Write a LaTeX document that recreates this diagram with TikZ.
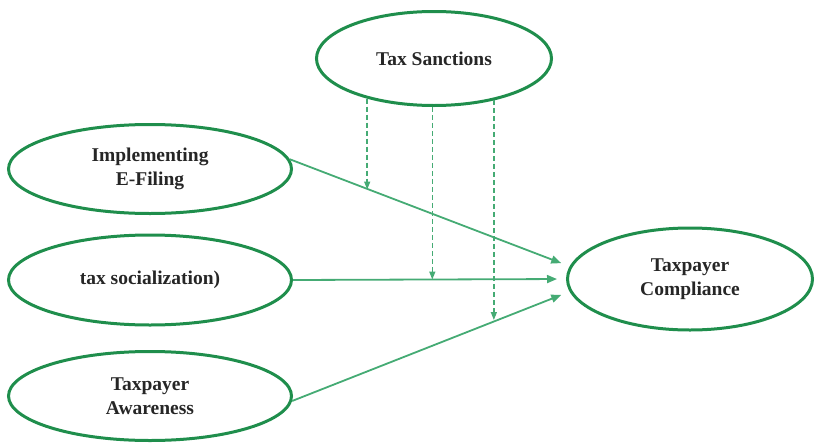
\documentclass[tikz,border=0pt]{standalone}
\usepackage{fontspec}
\setmainfont{Liberation Serif}
\usetikzlibrary{shapes.geometric,arrows.meta}
\definecolor{ringgreen}{HTML}{1F8E4C}
\definecolor{arrowgreen}{HTML}{45AB74}
\tikzset{
  oval/.style={ellipse, draw=ringgreen, line width=3pt, inner sep=0pt, align=center,
    font=\fontsize{19.5}{24}\selectfont\bfseries, text=black!85},
  solidarrow/.style={draw=arrowgreen, line width=1.8pt, -{Triangle[length=10pt,width=8pt]}, shorten >=9pt},
  dasharrow/.style={draw=arrowgreen, line width=1.5pt, dash pattern=on 5pt off 3pt, -{Triangle[length=8pt,width=6pt]}}
}
\begin{document}
\begin{tikzpicture}[x=1pt,y=-1pt]
\useasboundingbox (0,0) rectangle (816,447);
\node[oval, minimum width=235pt, minimum height=94pt] (ts) at (434,58.5) {Tax Sanctions};
\node[oval, minimum width=283pt, minimum height=89pt] (ef) at (150,169) {Implementing\\E-Filing};
\node[oval, minimum width=283pt, minimum height=90pt] (soc) at (150,280) {tax socialization)};
\node[oval, minimum width=283pt, minimum height=89pt] (aw) at (150,396) {Taxpayer\\Awareness};
\node[oval, minimum width=245pt, minimum height=102pt] (tc) at (690,279) {Taxpayer\\Compliance};

\draw[solidarrow] (ef.4) -- (tc.174);
\draw[solidarrow] (soc.east) -- (tc.west);
\draw[solidarrow] (aw.358) -- (tc.186);

\coordinate (e1) at (370,189.5);
\coordinate (e2) at (433,279.5);
\coordinate (e3) at (494,320);
\draw[dasharrow] (ts.211) -- (ts.211 |- e1);
\draw[dasharrow] (ts.268) -- (ts.268 |- e2);
\draw[dasharrow] (ts.325) -- (ts.325 |- e3);
\end{tikzpicture}
\end{document}
